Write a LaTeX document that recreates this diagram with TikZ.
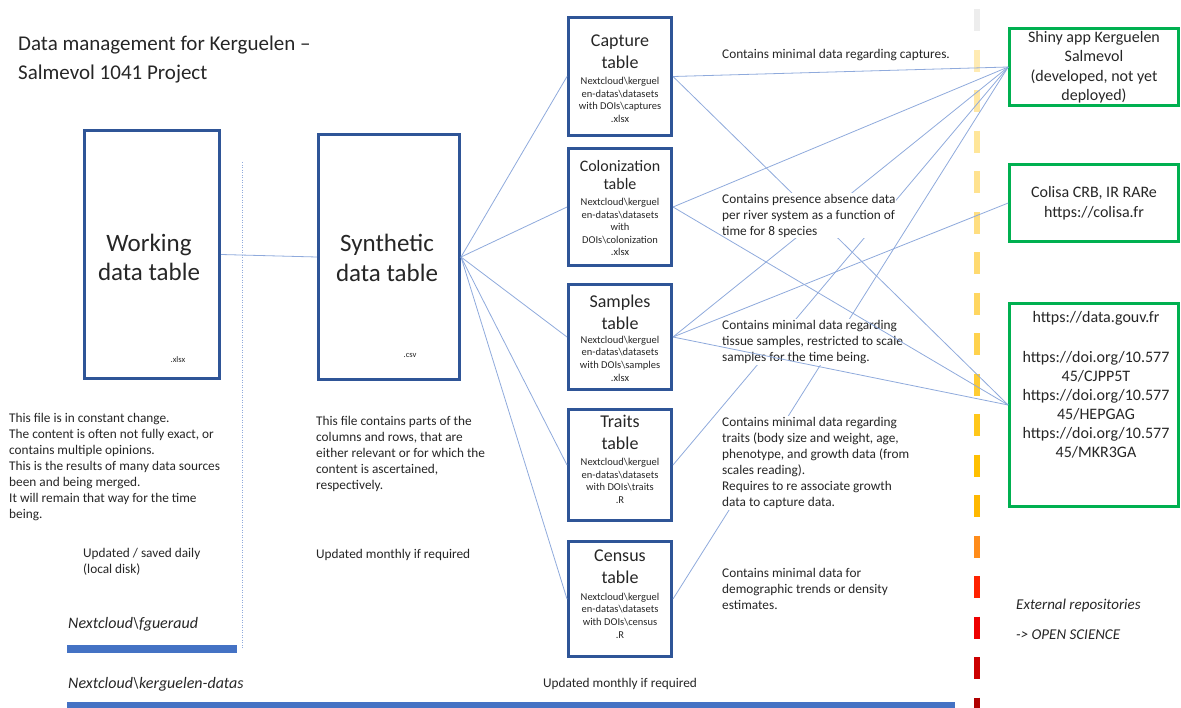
\documentclass[tikz,border=0pt]{standalone}
\usepackage{fontspec}
\setmainfont{Carlito}
\usetikzlibrary{positioning}

\definecolor{tableblue}{HTML}{2F5597}
\definecolor{linkblue}{HTML}{8FAADC}
\definecolor{barblue}{HTML}{4472C4}
\definecolor{repogreen}{HTML}{00B050}
\definecolor{inkgrey}{HTML}{262626}

\tikzset{
  filebox/.style={draw=tableblue, line width=3pt, inner sep=0pt},
  tablebox/.style={filebox, minimum width=103pt},
  tablehead/.style={align=center, inner sep=0pt, font=\fontsize{18}{22}\selectfont},
  tablepath/.style={align=center, inner sep=0pt, font=\fontsize{10.5}{12.6}\selectfont},
  repobox/.style={draw=repogreen, line width=2.6pt, minimum width=169pt, inner sep=0pt,
    align=center, font=\fontsize{16}{19.5}\selectfont},
  descr/.style={anchor=west, align=left, fill=white, inner sep=1pt, font=\fontsize{13.3}{16}\selectfont},
  pathlabel/.style={anchor=west, inner sep=1pt, font=\itshape\fontsize{16}{19}\selectfont},
  link/.style={draw=linkblue, line width=0.8pt},
}

\begin{document}
\begin{tikzpicture}[x=1pt, y=-1pt, text=inkgrey]
\useasboundingbox (0,0) rectangle (1181,707);

% coloured dashes separating the external repositories
\foreach \c [count=\i from 0] in {EDEDED,FFEBB3,FFE7A3,FFE699,FFE28F,FFDE80,FFDA70,FFD660,FFD24D,FFCC33,FFC71A,FFC000,FFB800,FF8C1A,FF2200,EE0000,CC0000,B00000} {
  \definecolor{dashcol}{HTML}{\c}
  \draw[dashcol, line width=6pt] (977,9+40.5*\i) -- (977,31+40.5*\i);
}

\node[anchor=west, align=left, inner sep=0pt, font=\fontsize{21}{29}\selectfont] (title) at (18,60)
  {Data management for Kerguelen --\\Salmevol 1041 Project};

% working and synthetic tables
\node[filebox, minimum width=135pt, minimum height=248pt] (working) at (152,254.5) {};
\node[filebox, minimum width=141pt, minimum height=245pt] (synthetic) at (389,257) {};
\node[align=center, inner sep=0pt, font=\fontsize{25}{29.5}\selectfont] (workingname) at (149,257.5) {Working\\data table};
\node[inner sep=0pt, font=\fontsize{8.5}{10}\selectfont] (workingext) at (178,360) {.xlsx};
\node[align=center, inner sep=0pt, font=\fontsize{25}{29.5}\selectfont] (syntheticname) at (387,258) {Synthetic\\data table};
\node[inner sep=0pt, font=\fontsize{8.5}{10}\selectfont] (syntheticext) at (410,355) {.csv};

% dataset tables
\node[tablebox, minimum height=118pt] (capture) at (620,76.5) {};
\node[tablebox, minimum height=117pt, below=10pt of capture] (colonization) {};
\node[tablebox, minimum height=105pt, below=16pt of colonization] (samples) {};
\node[tablebox, minimum height=111pt, below=17pt of samples] (traits) {};
\node[tablebox, minimum height=115pt, below=18pt of traits] (census) {};

\node[tablehead] (capturehead) at (620,51.5) {Capture\\table};
\node[tablepath] (capturepath) at (620,100) {Nextcloud\textbackslash kerguel\\en-datas\textbackslash datasets\\with DOIs\textbackslash captures\\.xlsx};
\node[tablehead, font=\fontsize{16}{18.5}\selectfont] (colonizationhead) at (620,175) {Colonization\\table};
\node[tablepath] (colonizationpath) at (620,227) {Nextcloud\textbackslash kerguel\\en-datas\textbackslash datasets\\with\\DOIs\textbackslash colonization\\.xlsx};
\node[tablehead] (sampleshead) at (620,312) {Samples\\table};
\node[tablepath] (samplespath) at (620,358.5) {Nextcloud\textbackslash kerguel\\en-datas\textbackslash datasets\\with DOIs\textbackslash samples\\.xlsx};
\node[tablehead] (traitshead) at (620,432.5) {Traits\\table};
\node[tablepath] (traitspath) at (620,481) {Nextcloud\textbackslash kerguel\\en-datas\textbackslash datasets\\with DOIs\textbackslash traits\\.R};
\node[tablehead] (censushead) at (620,567) {Census\\table};
\node[tablepath] (censuspath) at (620,615.5) {Nextcloud\textbackslash kerguel\\en-datas\textbackslash datasets\\with DOIs\textbackslash census\\.R};

% external repositories
\node[repobox, minimum height=77pt] (shiny) at (1094,67) {Shiny app Kerguelen\\Salmevol\\(developed, not yet\\deployed)};
\node[repobox, minimum height=77pt] (colisa) at (1094,203) {Colisa CRB, IR RARe\\https://colisa.fr};
\node[repobox, minimum height=203pt] (datagouv) at (1094,405) {};
\node[align=center, inner sep=0pt, font=\fontsize{16}{19}\selectfont] (doilist) at (1096,385)
  {https://data.gouv.fr\\[21pt]https://doi.org/10.577\\45/CJPP5T\\https://doi.org/10.577\\45/HEPGAG\\https://doi.org/10.577\\45/MKR3GA};

% storage bars
\fill[barblue] (67,645) rectangle (237,653);
\fill[barblue] (67,702) rectangle (955,711);
\draw[linkblue, line width=0.8pt, dash pattern=on 1pt off 1.5pt] (242,162) -- (242,648);

% links
\draw[link] (working.east) -- (synthetic.west);
\foreach \t in {capture,colonization,samples,traits,census}
  \draw[link] (synthetic.east) -- (\t.west);
\foreach \t in {capture,colonization,samples,traits,census}
  \draw[link] (\t.east) -- (shiny.west);
\draw[link] (capture.east) -- (datagouv.west);
\draw[link] (samples.east) -- (colisa.west);

% descriptions
\node[descr] (capturenote) at (721,55) {Contains minimal data regarding captures.};
\node[descr] (colonizationnote) at (721,215.5) {Contains presence absence data\\per river system as a function of\\time for 8 species};
\node[descr] (samplesnote) at (721,342) {Contains minimal data regarding\\tissue samples, restricted to scale\\samples for the time being.};
\node[descr] (traitsnote) at (721,463) {Contains minimal data regarding\\traits (body size and weight, age,\\phenotype, and growth data (from\\scales reading).\\Requires to re associate growth\\data to capture data.};
\node[descr] (censusnote) at (721,589) {Contains minimal data for\\demographic trends or density\\estimates.};
\node[descr, anchor=center] (tablesupdate) at (620,684) {Updated monthly if required};
\node[descr] (workingnote) at (8,467) {This file is in constant change.\\The content is often not fully exact, or\\contains multiple opinions.\\This is the results of many data sources\\been and being merged.\\It will remain that way for the time\\being.};
\node[descr] (workingupdate) at (82,562) {Updated / saved daily\\(local disk)};
\node[descr] (syntheticnote) at (315,454) {This file contains parts of the\\columns and rows, that are\\either relevant or for which the\\content is ascertained,\\respectively.};
\node[descr] (syntheticupdate) at (315,555) {Updated monthly if required};
\node[pathlabel] (localpath) at (67,624) {Nextcloud\textbackslash fgueraud};
\node[pathlabel] (sharedpath) at (67,684) {Nextcloud\textbackslash kerguelen-datas};
\node[pathlabel, font=\itshape\fontsize{15}{18}\selectfont] (externalnote) at (1015,605) {External repositories};
\node[pathlabel, font=\itshape\fontsize{15}{18}\selectfont] (opennote) at (1015,635) {-> OPEN SCIENCE};

\draw[link] (colonization.east) -- (datagouv.west);
\draw[link] (samples.east) -- (datagouv.west);
\end{tikzpicture}
\end{document}
